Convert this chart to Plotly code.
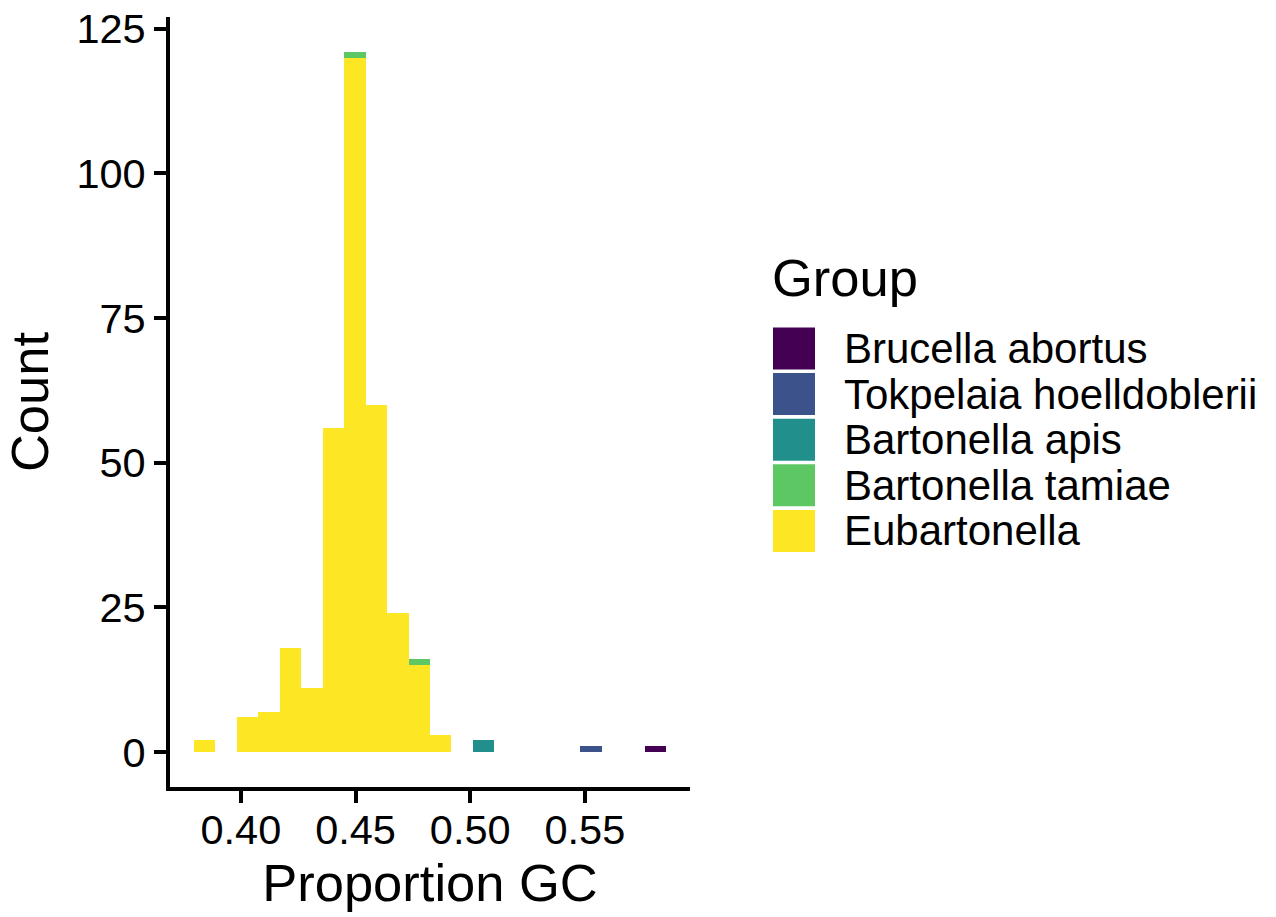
import plotly.graph_objects as go

# Histogram of genome GC proportion, 22 bins of equal width, stacked by group
bin_start = 0.37939
bin_width = 0.00937
n_bins = 22

groups = [
    "Brucella abortus",
    "Tokpelaia hoelldoblerii",
    "Bartonella apis",
    "Bartonella tamiae",
    "Eubartonella",
]
colors = ["#440154", "#3B528B", "#21908C", "#5DC863", "#FDE725"]

counts_brucella = [0, 0, 0, 0, 0, 0, 0, 0, 0, 0, 0, 0, 0, 0, 0, 0, 0, 0, 0, 0, 0, 1]
counts_tokpelaia = [0, 0, 0, 0, 0, 0, 0, 0, 0, 0, 0, 0, 0, 0, 0, 0, 0, 0, 1, 0, 0, 0]
counts_apis = [0, 0, 0, 0, 0, 0, 0, 0, 0, 0, 0, 0, 0, 2, 0, 0, 0, 0, 0, 0, 0, 0]
counts_tamiae = [0, 0, 0, 0, 0, 0, 0, 1, 0, 0, 1, 0, 0, 0, 0, 0, 0, 0, 0, 0, 0, 0]
counts_eubartonella = [2, 0, 6, 7, 18, 11, 56, 120, 60, 24, 15, 3, 0, 0, 0, 0, 0, 0, 0, 0, 0, 0]

x_ticks = [0.40, 0.45, 0.50, 0.55]
x_tick_labels = ["0.40", "0.45", "0.50", "0.55"]
y_ticks = [0, 25, 50, 75, 100, 125]
y_tick_labels = ["0", "25", "50", "75", "100", "125"]

series = {
    "Brucella abortus": counts_brucella,
    "Tokpelaia hoelldoblerii": counts_tokpelaia,
    "Bartonella apis": counts_apis,
    "Bartonella tamiae": counts_tamiae,
    "Eubartonella": counts_eubartonella,
}

centers = [bin_start + (i + 0.5) * bin_width for i in range(n_bins)]
edge_lo = bin_start
edge_hi = bin_start + n_bins * bin_width

FONT = "Liberation Sans, Arial, sans-serif"
W, H = 1276, 917
ML, MR, MT, MB = 170, 586, 17, 130
TICK_SIZE = 41.5
LEGEND_SIZE = 42
TITLE_SIZE = 52.5

fig = go.Figure()
# first trace sits at the bottom of the stack
for name, col in reversed(list(zip(groups, colors))):
    fig.add_trace(go.Bar(
        x=centers,
        y=series[name],
        width=bin_width,
        name=name,
        marker=dict(color=col, line=dict(width=0)),
        showlegend=False,
    ))

totals = [sum(v) for v in zip(*series.values())]
ymax = max(totals)
xpad = 0.05 * (edge_hi - edge_lo)
ypad = 0.05 * ymax

fig.update_layout(
    width=W, height=H,
    margin=dict(l=ML, r=MR, t=MT, b=MB, autoexpand=False),
    barmode="stack",
    bargap=0,
    plot_bgcolor="white",
    paper_bgcolor="white",
    font=dict(family=FONT, color="black"),
)
fig.update_xaxes(
    range=[edge_lo - xpad, edge_hi + xpad],
    tickvals=x_ticks, ticktext=x_tick_labels,
    showgrid=False, zeroline=False,
    showline=True, linecolor="black", linewidth=4,
    ticks="outside", ticklen=12, tickwidth=4, tickcolor="black",
    ticklabelstandoff=-9,
    tickfont=dict(size=TICK_SIZE, color="black", family=FONT),
    title=dict(text="Proportion GC", font=dict(size=TITLE_SIZE, family=FONT), standoff=12),
)
fig.update_yaxes(
    range=[-ypad, ymax + ypad],
    tickvals=y_ticks, ticktext=y_tick_labels,
    showgrid=False, zeroline=False,
    showline=True, linecolor="black", linewidth=4,
    ticks="outside", ticklen=12, tickwidth=4, tickcolor="black",
    tickfont=dict(size=TICK_SIZE, color="black", family=FONT),
    title=dict(text="Count", font=dict(size=TITLE_SIZE, family=FONT), standoff=17),
)

# Legend drawn as keys and labels to the right of the panel
pw = W - ML - MR
ph = H - MT - MB


def px_x(v):
    return (v - ML) / pw


def px_y(v):
    return (H - MB - v) / ph


key_left, key_size, key_step, key_top = 773, 42, 45.6, 327.5
label_left = 842

fig.add_annotation(
    x=px_x(key_left - 3), y=px_y(277), xref="paper", yref="paper",
    text="Group", showarrow=False, xanchor="left", yanchor="middle",
    font=dict(size=TITLE_SIZE, family=FONT, color="black"),
)
for i, (name, col) in enumerate(zip(groups, colors)):
    top = key_top + i * key_step
    fig.add_shape(
        type="rect", xref="paper", yref="paper",
        x0=px_x(key_left), x1=px_x(key_left + key_size),
        y0=px_y(top + key_size), y1=px_y(top),
        fillcolor=col, line=dict(width=0),
    )
    fig.add_annotation(
        x=px_x(label_left), y=px_y(top + key_size / 2), xref="paper", yref="paper",
        text=name, showarrow=False, xanchor="left", yanchor="middle",
        font=dict(size=LEGEND_SIZE, family=FONT, color="black"),
    )

fig.write_html("out.html")
